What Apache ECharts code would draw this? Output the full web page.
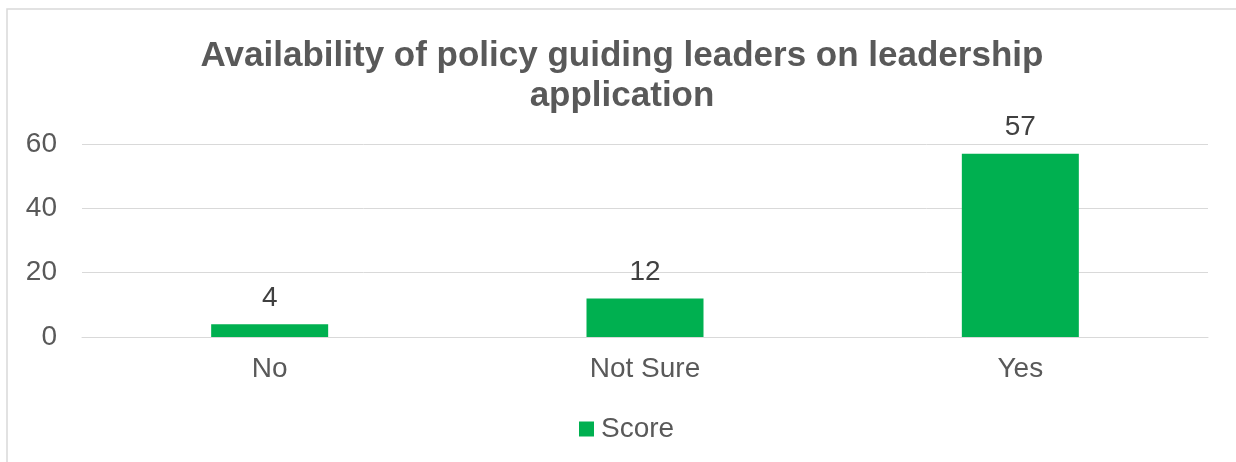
<!DOCTYPE html>
<html>
<head>
<meta charset="utf-8">
<script src="https://cdn.jsdelivr.net/npm/echarts@6/dist/echarts.min.js"></script>
<style>
html,body{margin:0;padding:0;background:#fff;}
#chart{width:1236px;height:462px;}
</style>
</head>
<body>
<div id="chart"></div>
<script>
const titleText = 'Availability of policy guiding leaders on leadership\napplication';
const categories = ['No', 'Not Sure', 'Yes'];
const seriesName = 'Score';
const scores = [4, 12, 57];
const yMin = 0, yMax = 60, yStep = 20;

const FONT = '"Liberation Sans", Arial, sans-serif';
const chart = echarts.init(document.getElementById('chart'), null, {renderer: 'canvas'});
chart.setOption({
  backgroundColor: '#ffffff',
  animation: false,
  graphic: [{
    type: 'rect',
    shape: {x: 7, y: 9, width: 1400, height: 600},
    style: {fill: 'none', stroke: '#d9d9d9', lineWidth: 1.5},
    silent: true
  }],
  title: {
    text: titleText,
    left: 622,
    top: 36,
    padding: 0,
    textAlign: 'center',
    textStyle: {fontFamily: FONT, fontSize: 35, fontWeight: 'bold', color: '#595959', lineHeight: 40}
  },
  legend: {
    data: [seriesName],
    left: 579,
    top: 415,
    padding: 0,
    icon: 'rect',
    itemWidth: 15,
    itemHeight: 15,
    itemGap: 10,
    textStyle: {fontFamily: FONT, fontSize: 28, color: '#595959', padding: [0, 0, 0, 2]}
  },
  grid: {left: 82, right: 28, top: 144, bottom: 125, containLabel: false},
  xAxis: {
    type: 'category',
    data: categories,
    axisLine: {show: true, lineStyle: {color: '#d9d9d9', width: 1}},
    axisTick: {show: false},
    axisLabel: {fontFamily: FONT, fontSize: 28, color: '#595959', margin: 18}
  },
  yAxis: {
    type: 'value',
    min: yMin, max: yMax, interval: yStep,
    axisLine: {show: false},
    axisTick: {show: false},
    splitLine: {lineStyle: {color: '#d9d9d9', width: 1}},
    axisLabel: {fontFamily: FONT, fontSize: 28, color: '#595959', margin: 25}
  },
  series: [{
    name: seriesName,
    type: 'bar',
    data: scores,
    barWidth: 117,
    itemStyle: {color: '#00b050'},
    label: {show: true, position: 'top', distance: 12, fontFamily: FONT, fontSize: 28, color: '#404040'}
  }]
});
</script>
</body>
</html>
